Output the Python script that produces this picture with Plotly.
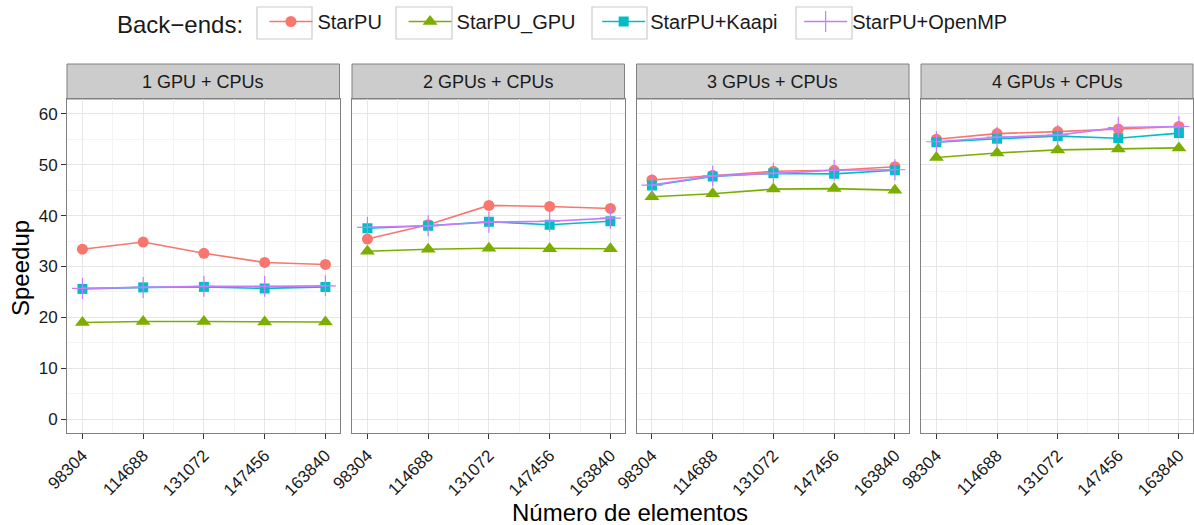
import plotly.graph_objects as go

# ---------------- data ----------------
elements = [98304, 114688, 131072, 147456, 163840]
panels = ["1 GPU + CPUs", "2 GPUs + CPUs", "3 GPUs + CPUs", "4 GPUs + CPUs"]
backends = ["StarPU", "StarPU_GPU", "StarPU+Kaapi", "StarPU+OpenMP"]

starpu = [
    [33.4, 34.8, 32.6, 30.8, 30.4],
    [35.4, 38.2, 42.0, 41.8, 41.4],
    [47.0, 47.9, 48.7, 48.9, 49.6],
    [55.0, 56.1, 56.5, 57.0, 57.5],
]
starpu_gpu = [
    [19.0, 19.2, 19.2, 19.1, 19.1],
    [33.0, 33.4, 33.6, 33.5, 33.5],
    [43.7, 44.3, 45.2, 45.3, 45.0],
    [51.4, 52.3, 52.9, 53.1, 53.3],
]
starpu_kaapi = [
    [25.6, 25.9, 26.0, 25.7, 26.0],
    [37.5, 38.0, 38.8, 38.2, 38.9],
    [45.9, 47.7, 48.3, 48.2, 48.9],
    [54.4, 55.1, 55.6, 55.2, 56.2],
]
starpu_openmp = [
    [25.7, 25.9, 26.1, 26.1, 26.2],
    [37.7, 38.0, 38.7, 38.9, 39.5],
    [46.0, 47.8, 48.3, 48.9, 49.0],
    [54.5, 55.4, 55.8, 57.3, 57.5],
]
series_values = [starpu, starpu_gpu, starpu_kaapi, starpu_openmp]
y_ticks = [0, 10, 20, 30, 40, 50, 60]

# ---------------- styles ----------------
colors = ["#F8766D", "#7CAE00", "#00BFC4", "#C77CFF"]
symbols = ["circle", "triangle-up", "square", "cross-thin"]
msizes = [11, 13, 10, 15]
FONT = "Liberation Sans, Arial, sans-serif"

W, H = 1194, 525
px_x = [(67, 339.5), (352, 624.5), (636.5, 909), (921, 1193)]
plot_top, plot_bot, strip_top = 99, 433, 64
ydom = [(H - plot_bot) / H, (H - plot_top) / H]
strip_y = [(H - plot_top) / H, (H - strip_top) / H]
legend_key_px = [(257, 312), (396, 452), (592, 647), (796, 852)]

fig = go.Figure()

for p in range(4):
    xa = "x" if p == 0 else f"x{p+1}"
    ya = "y" if p == 0 else f"y{p+1}"
    for s, name in enumerate(backends):
        mk = dict(symbol=symbols[s], size=msizes[s], color=colors[s])
        if symbols[s] == "cross-thin":
            mk["line"] = dict(color=colors[s], width=1.2)
        fig.add_trace(go.Scatter(
            x=elements, y=series_values[s][p], mode="lines+markers",
            name=name + "\u00a0\u00a0\u00a0", legendgroup=name, showlegend=(p == 0),
            line=dict(color=colors[s], width=1.6), marker=mk,
            xaxis=xa, yaxis=ya,
        ))

layout = dict(
    width=W, height=H, template="none",
    margin=dict(l=0, r=0, t=0, b=0),
    paper_bgcolor="white", plot_bgcolor="white",
    font=dict(family=FONT, color="#1A1A1A"),
    showlegend=True,
    legend=dict(
        orientation="h", x=115 / W, xanchor="left", y=(H - 23) / H, yanchor="middle",
        title=dict(text="Back\u2212ends:\u00a0\u00a0", font=dict(size=24, family=FONT, color="#1A1A1A")),
        font=dict(size=20, family=FONT, color="#1A1A1A"),
        itemwidth=43, bgcolor="rgba(0,0,0,0)",
    ),
)

step = elements[1] - elements[0]
xrange = [elements[0] - 0.254 * step, elements[-1] + 0.232 * step]
shapes, annotations = [], []
for p in range(4):
    suffix = "" if p == 0 else str(p + 1)
    d0, d1 = px_x[p][0] / W, px_x[p][1] / W
    layout["xaxis" + suffix] = dict(
        domain=[d0, d1], range=xrange, anchor="y" + suffix,
        tickvals=elements, ticktext=[str(e) for e in elements],
        tickangle=-45, ticks="outside", ticklen=5, tickcolor="#333333", tickwidth=1,
        tickfont=dict(size=17, family=FONT, color="#1A1A1A"),
        showgrid=True, gridcolor="#E6E6E6", gridwidth=1,
        minor=dict(dtick=step / 2, tick0=elements[0] + step / 2, showgrid=True,
                   gridcolor="#F4F4F4", gridwidth=1, ticks=""),
        showline=True, linecolor="#808080", linewidth=1, mirror=True,
        zeroline=False, automargin=False, fixedrange=True,
    )
    layout["yaxis" + suffix] = dict(
        domain=ydom, range=[-2.7, 62.9], anchor="x" + suffix,
        tickvals=y_ticks, showticklabels=(p == 0),
        ticks="outside" if p == 0 else "", ticklen=5, tickcolor="#333333", tickwidth=1,
        tickfont=dict(size=17, family=FONT, color="#1A1A1A"),
        showgrid=True, gridcolor="#E6E6E6", gridwidth=1,
        minor=dict(dtick=5, tick0=5, showgrid=True, gridcolor="#F4F4F4", gridwidth=1, ticks=""),
        showline=True, linecolor="#808080", linewidth=1, mirror=True,
        zeroline=False, automargin=False, fixedrange=True,
    )
    shapes.append(dict(type="rect", xref="paper", yref="paper",
                       x0=d0, x1=d1, y0=strip_y[0], y1=strip_y[1],
                       fillcolor="#CCCCCC", line=dict(color="#808080", width=1), layer="below"))
    annotations.append(dict(text=panels[p], xref="paper", yref="paper",
                            x=(d0 + d1) / 2, y=(strip_y[0] + strip_y[1]) / 2,
                            xanchor="center", yanchor="middle", showarrow=False,
                            font=dict(size=18, family=FONT, color="#1A1A1A")))

# boxes around the legend keys (ggplot style)
for k0, k1 in legend_key_px:
    shapes.append(dict(type="rect", xref="paper", yref="paper",
                       x0=k0 / W, x1=k1 / W, y0=(H - 39) / H, y1=(H - 7) / H,
                       fillcolor="white", line=dict(color="#CCCCCC", width=1.2), layer="below"))

annotations.append(dict(text="Número de elementos", xref="paper", yref="paper",
                        x=(67 + 1193) / 2 / W, y=(H - 512) / H, xanchor="center", yanchor="middle",
                        showarrow=False, font=dict(size=24, family=FONT, color="#000000")))
annotations.append(dict(text="Speedup", xref="paper", yref="paper", textangle=-90,
                        x=20 / W, y=(H - 268) / H, xanchor="center", yanchor="middle",
                        showarrow=False, font=dict(size=24, family=FONT, color="#000000")))
layout["shapes"] = shapes
layout["annotations"] = annotations
fig.update_layout(**layout)
fig.write_html("out.html", config={"displayModeBar": False},
               post_script="document.body.style.margin='0px';document.body.style.overflow='hidden';")
